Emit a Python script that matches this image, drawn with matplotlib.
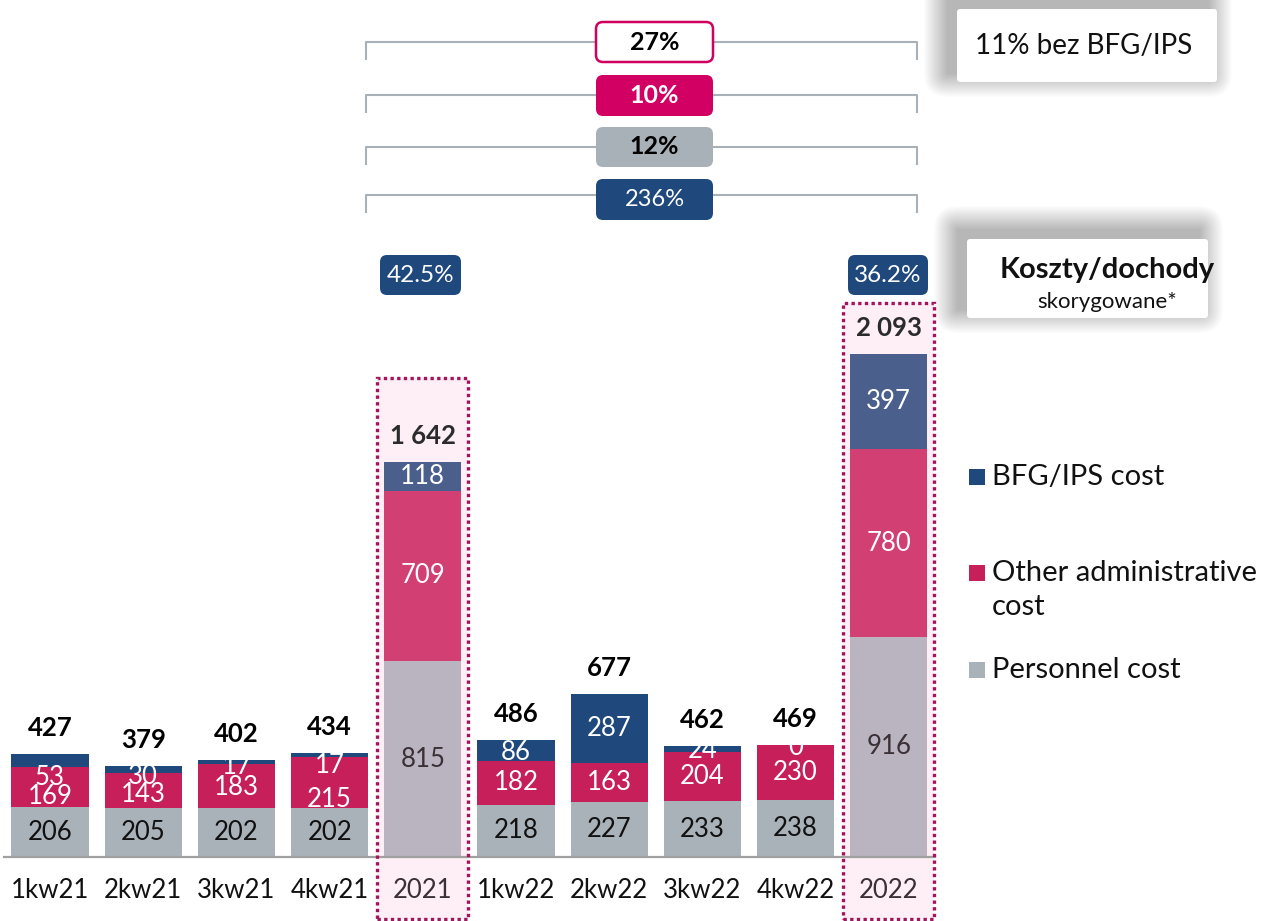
import matplotlib
matplotlib.use("Agg")
import matplotlib.pyplot as plt
from matplotlib.patches import FancyBboxPatch, Rectangle
from matplotlib.lines import Line2D
from matplotlib.transforms import IdentityTransform

plt.rcParams['font.family'] = ['Lato', 'DejaVu Sans']

periods = ["1kw21", "2kw21", "3kw21", "4kw21", "2021",
           "1kw22", "2kw22", "3kw22", "4kw22", "2022"]
personnel = [206, 205, 202, 202, 815, 218, 227, 233, 238, 916]
other_admin = [169, 143, 183, 215, 709, 182, 163, 204, 230, 780]
bfg_ips = [53, 30, 17, 17, 118, 86, 287, 24, 0, 397]
totals = [427, 379, 402, 434, 1642, 486, 677, 462, 469, 2093]
is_annual = [False, False, False, False, True, False, False, False, False, True]

series_names = ["BFG/IPS cost", "Other administrative\ncost", "Personnel cost"]
growth = ["27%", "10%", "12%", "236%"]
cost_income = ["42.5%", "36.2%"]

# colours
BLUE, MAG, GRAY = "#1F497D", "#C61F5A", "#A9B1B9"
BLUE_A, MAG_A, GRAY_A = "#4A5F8C", "#D23F73", "#B9B4C0"
PINK = "#FDEFF5"
DOTS = "#A3145C"

W, H = 1268, 921
fig = plt.figure(figsize=(W / 100, H / 100), dpi=100)
ax = fig.add_axes([0, 0, 1, 1])
# one x step = 93.2 px, one unit = 0.2403 px, baseline at 857 px
ax.set_xlim(-50 / 93.2, (W - 50) / 93.2)
ax.set_ylim(-(H - 857) / 0.2403, 857 / 0.2403)
ax.axis("off")

x = list(range(len(periods)))
bw = 0.83

# highlight boxes behind annual bars
box_top = {4: 1993, 9: 2305}
for i, top in box_top.items():
    ax.add_patch(Rectangle((i - 0.49, -258), 0.97, top + 258, fc=PINK, ec="none", zorder=0))
    ax.add_patch(Rectangle((i - 0.49, -258), 0.97, top + 258, fc="none", ec=DOTS,
                           lw=2.4, ls=(0, (1, 1)), zorder=4, clip_on=False))

c_gray = [GRAY_A if a else GRAY for a in is_annual]
c_mag = [MAG_A if a else MAG for a in is_annual]
c_blue = [BLUE_A if a else BLUE for a in is_annual]
bottom2 = [p + o for p, o in zip(personnel, other_admin)]

ax.bar(x, personnel, bw, color=c_gray, zorder=2)
ax.bar(x, other_admin, bw, bottom=personnel, color=c_mag, zorder=2)
ax.bar(x, bfg_ips, bw, bottom=bottom2, color=c_blue, zorder=2)

ax.plot([-0.49, 9.5], [0, 0], color="#A0A0A0", lw=1.6, zorder=3)

# label nudges (px, down is negative) where the original chart shifted them
blue_dy = [-17, -7, -4, -11, 0, -2, 0, -1, -3, 0]
mag_dy = [-9, -4, -1, -17, 0, 0, 0, 0, 0, 0]
FS = 18.5

for i in x:
    dark = "#3A3036" if is_annual[i] else "#111111"
    ax.annotate(str(personnel[i]), (i, personnel[i] / 2), xytext=(0, 0),
                textcoords="offset points", ha="center", va="center",
                fontsize=FS, color=dark, zorder=5)
    ax.annotate(str(other_admin[i]), (i, personnel[i] + other_admin[i] / 2),
                xytext=(0, mag_dy[i] * 0.72), textcoords="offset points",
                ha="center", va="center", fontsize=FS, color="white", zorder=5)
    ax.annotate(str(bfg_ips[i]), (i, bottom2[i] + bfg_ips[i] / 2),
                xytext=(0, blue_dy[i] * 0.72), textcoords="offset points",
                ha="center", va="center", fontsize=FS, color="white", zorder=5)
    t = totals[i]
    txt = f"{t:,}".replace(",", " ")
    ax.annotate(txt, (i, bottom2[i] + bfg_ips[i]), xytext=(0, 26 * 0.72),
                textcoords="offset points", ha="center", va="center",
                fontsize=FS, fontweight="bold",
                color="#2B2B2B" if is_annual[i] else "black", zorder=5)
    ax.text(i, -33 / 0.2403, periods[i], ha="center", va="center", fontsize=18.5,
            color="#3A3036" if is_annual[i] else "#111111", zorder=5)


def fx(px):
    return px / W


def fy(py):
    return 1 - py / H


def rbox(x0, y0, x1, y1, fc, ec="none", lw=0, r=7):
    p = FancyBboxPatch((x0, H - y1), x1 - x0, y1 - y0,
                       boxstyle=f"round,pad=0,rounding_size={r}",
                       transform=IdentityTransform(), fc=fc, ec=ec, lw=lw, zorder=6)
    fig.add_artist(p)


# growth brackets on top
bracket_y = [42, 95, 147, 195]
box_y = [(22, 62), (75, 116), (127, 167), (179, 220)]
box_style = [("white", "#D0005F", "black", "bold", 18),
             ("#D10062", "none", "white", "bold", 18),
             ("#A9B1B8", "none", "black", "bold", 18),
             (BLUE, "none", "white", "normal", 17)]
for k in range(4):
    yb = H - bracket_y[k]
    fig.add_artist(Line2D([366, 366, 917, 917], [yb - 17, yb, yb, yb - 17],
                          transform=IdentityTransform(), color="#A9B1B8", lw=1.5))
    fc, ec, tc, fw, fs = box_style[k]
    rbox(596, box_y[k][0], 713, box_y[k][1], fc, ec, lw=1.8 if ec != "none" else 0)
    fig.text(fx(654.5), fy(sum(box_y[k]) / 2), growth[k], ha="center", va="center",
             fontsize=fs, fontweight=fw, color=tc, zorder=7)

# cost/income badges above annual bars
for (x0, x1), lab in zip([(380, 461), (848, 928)], cost_income):
    rbox(x0, 255, x1, 295, BLUE)
    fig.text(fx((x0 + x1) / 2), fy(275), lab, ha="center", va="center",
             fontsize=17.5, color="white", zorder=7)


def shadow_panel(x0, y0, x1, y1):
    # soft shadow thrown up-left
    for s in range(24, 0, -1):
        fig.add_artist(FancyBboxPatch((x0 - 9 - s, H - (y1 - 9 + s)), (x1 - x0) + 2 * s,
                                      (y1 - y0) + 2 * s,
                                      boxstyle=f"round,pad=0,rounding_size={s}",
                                      transform=IdentityTransform(),
                                      fc="#000000", ec="none", alpha=0.011, zorder=5))
    fig.add_artist(FancyBboxPatch((x0, H - y1), x1 - x0, y1 - y0,
                                  boxstyle="round,pad=0,rounding_size=3",
                                  transform=IdentityTransform(),
                                  fc="white", ec="none", zorder=6))


shadow_panel(957, 9, 1217, 82)
fig.text(fx(975), fy(46), "11% bez BFG/IPS", ha="left", va="center", fontsize=20,
         color="#111111", zorder=7)
shadow_panel(967, 239, 1208, 318)
fig.text(fx(1107), fy(270), "Koszty/dochody", ha="center", va="center", fontsize=21,
         fontweight="bold", color="#111111", zorder=7)
fig.text(fx(1107), fy(302), "skorygowane*", ha="center", va="center", fontsize=16,
         color="#111111", zorder=7)

# legend
leg_y = [477, 573, 670]
leg_c = [BLUE, MAG, GRAY]
for name, yy, c in zip(series_names, leg_y, leg_c):
    fig.add_artist(Rectangle((969, H - yy - 8), 16, 16, transform=IdentityTransform(),
                             fc=c, ec="none"))
    for j, line in enumerate(name.split("\n")):
        fig.text(fx(992), fy(yy + 34 * j), line, ha="left", va="center",
                 fontsize=21, color="#111111")

fig.savefig("out.png", dpi=100)
